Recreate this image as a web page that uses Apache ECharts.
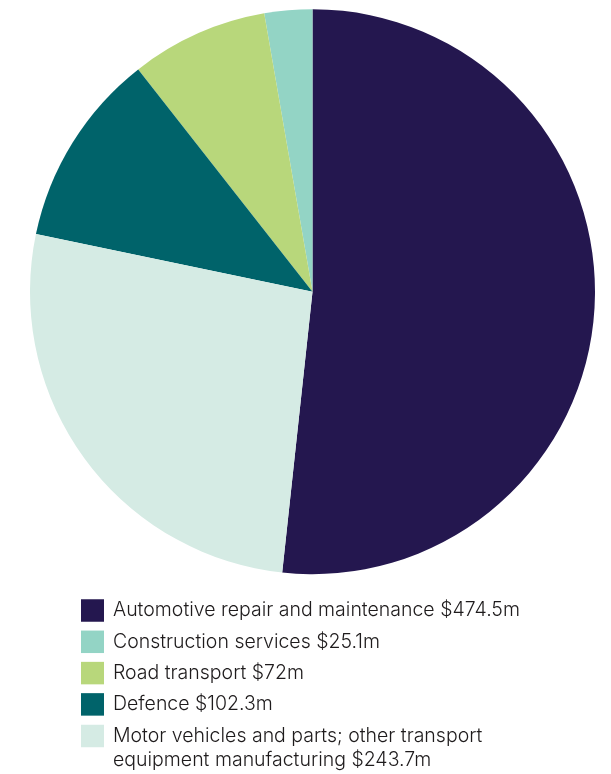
<!DOCTYPE html>
<html>
<head>
<meta charset="utf-8">
<script src="https://cdn.jsdelivr.net/npm/echarts@6/dist/echarts.min.js"></script>
<style>html,body{margin:0;padding:0;background:#fff;}#c{width:611px;height:774px;}</style>
</head>
<body>
<div id="c"></div>
<script>
const categories = [
  'Automotive repair and maintenance $474.5m',
  'Construction services $25.1m',
  'Road transport $72m',
  'Defence $102.3m',
  'Motor vehicles and parts; other transport equipment manufacturing $243.7m'
];
const values = [474.5, 25.1, 72, 102.3, 243.7];
const colors = ['#24174F', '#93D4C5', '#B8D77B', '#00636A', '#D5EBE4'];

const total = values.reduce((a, b) => a + b, 0);
const textStyle = {
  fontFamily: 'Inter',
  fontWeight: 300,
  fontSize: 19.5,
  lineHeight: 24,
  color: '#1E1B1C',
  padding: [0, 0, 0, 4]
};
const legendBase = {
  orient: 'vertical',
  left: 81,
  width: 520,
  height: 400,
  padding: 0,
  icon: 'rect',
  itemWidth: 23,
  itemHeight: 22.5,
  itemGap: 7.3,
  selectedMode: false,
  textStyle: textStyle
};
const chart = echarts.init(document.getElementById('c'), null, {renderer: 'canvas'});
chart.setOption({
  animation: false,
  color: colors,
  legend: [
    Object.assign({}, legendBase, {
      top: 598.5,
      data: categories.slice(0, 4)
    }),
    Object.assign({}, legendBase, {
      top: 700,
      formatter: function (n) {
        return ' \n' + n.replace('other transport equipment', 'other transport\nequipment');
      },
      data: categories.slice(4)
    })
  ],
  series: [{
    type: 'pie',
    center: [312.5, 291.7],
    radius: [0, 282.5],
    clockwise: false,
    startAngle: 90 - 360 * values[0] / total,
    label: {show: false},
    labelLine: {show: false},
    emphasis: {disabled: true},
    itemStyle: {borderWidth: 0},
    data: categories.map((n, i) => ({name: n, value: values[i]}))
  }]
});
</script>
</body>
</html>
